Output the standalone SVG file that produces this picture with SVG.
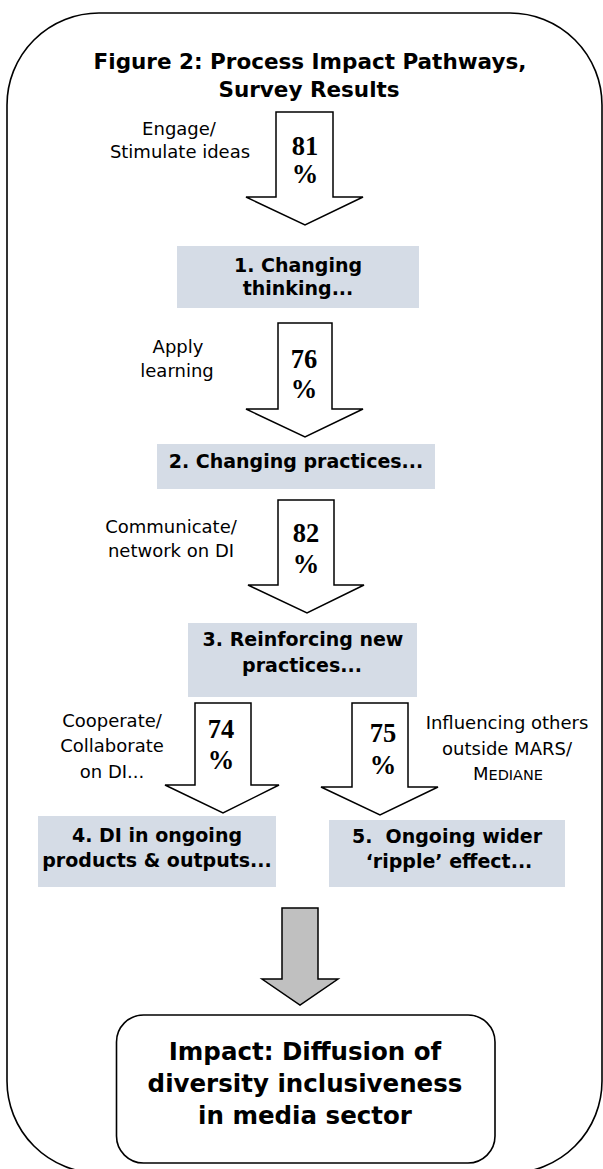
<svg xmlns="http://www.w3.org/2000/svg" width="603" height="1169" viewBox="0 0 603 1169">
<style>
.frame{fill:#fff;stroke:#000;stroke-width:1.6}
.box{fill:#d5dce6;stroke:none}
.arr{fill:#fff;stroke:#000;stroke-width:1.5;stroke-linejoin:miter}
.garr{fill:#c0c0c0;stroke:#000;stroke-width:1.5}
.title{font-family:"DejaVu Sans",Verdana,sans-serif;font-weight:bold;font-size:21.5px;text-anchor:middle}
.bt{font-family:"DejaVu Sans",Verdana,sans-serif;font-weight:bold;font-size:19px;text-anchor:middle;white-space:pre}
.lbl{font-family:"DejaVu Sans",Verdana,sans-serif;font-size:18px;text-anchor:middle}
.num{font-family:"Liberation Serif","Times New Roman",serif;font-weight:bold;font-size:26.5px;text-anchor:middle}
.imp{font-family:"DejaVu Sans",Verdana,sans-serif;font-weight:bold;font-size:24.5px;text-anchor:middle}
</style>
<rect width="603" height="1169" fill="#fff"/>
<g id="frame">
<rect class="frame" x="7" y="13" width="595" height="1160" rx="92" ry="92"/>
<text class="title" x="310" y="69">Figure 2: Process Impact Pathways,</text>
<text class="title" x="309" y="97">Survey Results</text>
</g>
<g id="connectors">
<g id="arrow1">
<polygon class="arr" points="276,112 333,112 333,197 363,197 305,225 246,197 276,197"/>
<text class="num" x="305" y="155">81</text>
<text class="num" x="305" y="183">%</text>
<text class="lbl" x="179" y="135">Engage/</text>
<text class="lbl" x="180" y="158">Stimulate ideas</text>
</g>
<g id="arrow2">
<polygon class="arr" points="278,323 332,323 332,409 363,409 305,437 246,409 278,409"/>
<text class="num" x="304" y="368">76</text>
<text class="num" x="304" y="398">%</text>
<text class="lbl" x="178" y="353">Apply</text>
<text class="lbl" x="177" y="377">learning</text>
</g>
<g id="arrow3">
<polygon class="arr" points="278,500 334,500 334,585 364,585 307,613 248,585 278,585"/>
<text class="num" x="306" y="542">82</text>
<text class="num" x="306" y="573">%</text>
<text class="lbl" x="171" y="533">Communicate/</text>
<text class="lbl" x="171" y="557">network on DI</text>
</g>
<g id="arrow4">
<polygon class="arr" points="195,703 251,703 251,785 279,785 223,813 165,785 195,785"/>
<text class="num" x="221" y="738">74</text>
<text class="num" x="221" y="769">%</text>
<text class="lbl" x="112" y="727">Cooperate/</text>
<text class="lbl" x="112" y="752">Collaborate</text>
<text class="lbl" x="112" y="778">on DI...</text>
</g>
<g id="arrow5">
<polygon class="arr" points="352,703 408,703 408,787 438,787 380,815 321,787 352,787"/>
<text class="num" x="383" y="742">75</text>
<text class="num" x="383" y="774">%</text>
<text class="lbl" x="507" y="729">Influencing others</text>
<text class="lbl" x="507" y="755">outside MARS/</text>
<text class="lbl" x="508" y="780">M<tspan font-size="14.5px">EDIANE</tspan></text>
</g>
<g id="arrow6">
<polygon class="garr" points="282,908 318,908 318,979 338,979 300,1005 262,979 282,979"/>
</g>
</g>
<g id="node1">
<rect class="box" x="177" y="246" width="242" height="62"/>
<text class="bt" x="298" y="272">1. Changing</text>
<text class="bt" x="298" y="295">thinking...</text>
</g>
<g id="node2">
<rect class="box" x="157" y="444" width="278" height="45"/>
<text class="bt" x="296" y="468">2. Changing practices...</text>
</g>
<g id="node3">
<rect class="box" x="188" y="623" width="229" height="74"/>
<text class="bt" x="303" y="646">3. Reinforcing new</text>
<text class="bt" x="302" y="672">practices...</text>
</g>
<g id="node4">
<rect class="box" x="38" y="816" width="238" height="71"/>
<text class="bt" x="157" y="842">4. DI in ongoing</text>
<text class="bt" x="157" y="867">products &amp; outputs...</text>
</g>
<g id="node5">
<rect class="box" x="329" y="820" width="236" height="67"/>
<text class="bt" x="447" y="843" xml:space="preserve">5.  Ongoing wider</text>
<text class="bt" x="449" y="868">‘ripple’ effect...</text>
</g>
<g id="impact">
<rect x="116.5" y="1015" width="378.5" height="148" rx="27" ry="27" fill="#fff" stroke="#000" stroke-width="1.6"/>
<text class="imp" x="305" y="1060">Impact: Diffusion of</text>
<text class="imp" x="305" y="1092">diversity inclusiveness</text>
<text class="imp" x="305" y="1124">in media sector</text>
</g>
</svg>
